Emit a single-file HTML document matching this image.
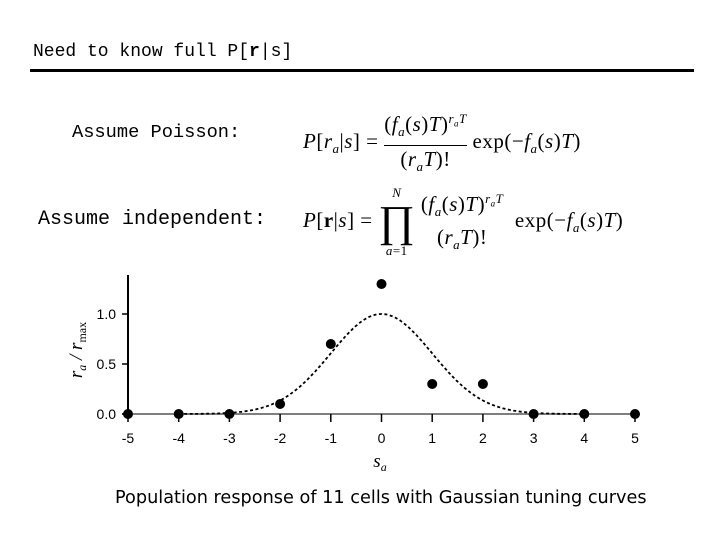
<!DOCTYPE html>
<html><head><meta charset="utf-8"><style>
body{margin:0;width:720px;height:540px;background:#fff;overflow:hidden;position:relative;font-family:"DejaVu Sans","Liberation Sans",sans-serif}
.t{position:absolute;color:#000;white-space:nowrap}
.mono{font-family:"Liberation Mono",monospace}
.m{font-family:"Liberation Serif",serif;font-size:21px;position:absolute;white-space:nowrap;letter-spacing:0.5px}
sub,sup{font-size:13px}
</style></head><body>
<div class="t mono" style="left:33px;top:42px;font-size:18px">Need to know full P[<b>r</b>|s]</div>
<div style="position:absolute;left:30px;top:69px;width:664px;height:3px;background:#000"></div>
<div class="t mono" style="left:72px;top:121px;font-size:18.7px">Assume Poisson:</div>
<div class="t mono" style="left:38px;top:208px;font-size:20px">Assume independent:</div>
<div class="m" style="left:303px;top:106px;line-height:26px">
<i>P</i>[<i>r<sub>a</sub></i>|<i>s</i>] = <span style="display:inline-block;vertical-align:middle;text-align:center"><span style="display:block;border-bottom:1px solid #000">(<i>f<sub>a</sub></i>(<i>s</i>)<i>T</i>)<sup><i>r<sub style="font-size:9px">a</sub>T</i></sup></span><span style="display:block">(<i>r<sub>a</sub>T</i>)!</span></span> exp(&minus;<i>f<sub>a</sub></i>(<i>s</i>)<i>T</i>)</div>
<div class="m" style="left:303px;top:186px;line-height:24px">
<i>P</i>[<b>r</b>|<i>s</i>] = <span style="display:inline-block;vertical-align:middle;text-align:center;font-size:13px"><span style="display:block;line-height:14px"><i>N</i></span><span style="display:block;font-size:44px;line-height:44px">&prod;</span><span style="display:block;line-height:14px"><i>a</i>=1</span></span> <span style="display:inline-block;vertical-align:middle;text-align:center"><span style="display:block">(<i>f<sub>a</sub></i>(<i>s</i>)<i>T</i>)<sup><i>r<sub style="font-size:9px">a</sub>T</i></sup></span><span style="display:block">(<i>r<sub>a</sub>T</i>)!</span></span> &nbsp;exp(&minus;<i>f<sub>a</sub></i>(<i>s</i>)<i>T</i>)</div>
<svg id="chart" width="720" height="540" style="position:absolute;left:0;top:0"></svg>
<div class="t" style="left:115px;top:488px;font-size:17.7px">Population response of 11 cells with Gaussian tuning curves</div>
<script>
const categories=[-5,-4,-3,-2,-1,0,1,2,3,4,5];
const responses=[0,0,0,0.1,0.7,1.3,0.3,0.3,0,0,0];
const yTicks=[0,0.5,1.0];
const yTickLabels=["0.0","0.5","1.0"];
const tuningSigma=1;
const svg=document.getElementById('chart');
const NS='http://www.w3.org/2000/svg';
const xs=v=>128+(v+5)*50.7;
const ys=v=>414-v*100;
function mk(t,a,p){const e=document.createElementNS(NS,t);for(const k in a)e.setAttribute(k,a[k]);(p||svg).appendChild(e);return e;}
let e=mk('line',{x1:128,y1:275,x2:128,y2:414,stroke:'#000','stroke-width':2});


e=mk('line',{x1:122,y1:414,x2:640,y2:414,stroke:'#555','stroke-width':1.5});


yTicks.forEach((v,i)=>{
 mk('line',{x1:122,x2:128,y1:ys(v),y2:ys(v),stroke:'#000','stroke-width':1.5});
 const t=mk('text',{x:116,y:ys(v)+5,'text-anchor':'end','font-size':14,'font-family':'Liberation Sans, sans-serif'});
 t.textContent=yTickLabels[i];
 
 
});
categories.forEach(c=>{
 mk('line',{x1:xs(c),x2:xs(c),y1:414,y2:422,stroke:'#000','stroke-width':1.5});
 const t=mk('text',{x:xs(c),y:443,'text-anchor':'middle','font-size':14,'font-family':'Liberation Sans, sans-serif'});
 t.textContent=String(c);
 
 
});
let d='';
for(let i=0;i<=200;i++){const v=-4+8*i/200;d+=(i?'L':'M')+xs(v).toFixed(1)+','+ys(Math.exp(-v*v/(2*tuningSigma*tuningSigma))).toFixed(1);}
e=mk('path',{d:d,fill:'none',stroke:'#000','stroke-width':1.8,'stroke-dasharray':'3,2.5'});


categories.forEach((c,i)=>{
 const p=mk('circle',{cx:xs(c),cy:ys(responses[i]),r:5,fill:'#000'});
 
 
});
let t=mk('text',{x:0,y:0,transform:'translate(82,350) rotate(-90)','text-anchor':'middle','font-size':19,'font-family':'Liberation Serif, serif','font-style':'italic'});
t.innerHTML='r<tspan font-size="12" dy="4">a</tspan><tspan dy="-4"> / r</tspan><tspan font-size="12" dy="4" font-style="normal">max</tspan>';


t=mk('text',{x:380,y:467,'text-anchor':'middle','font-size':19,'font-family':'Liberation Serif, serif','font-style':'italic'});
t.innerHTML='s<tspan font-size="12" dy="4">a</tspan>';


</script>
</body></html>
